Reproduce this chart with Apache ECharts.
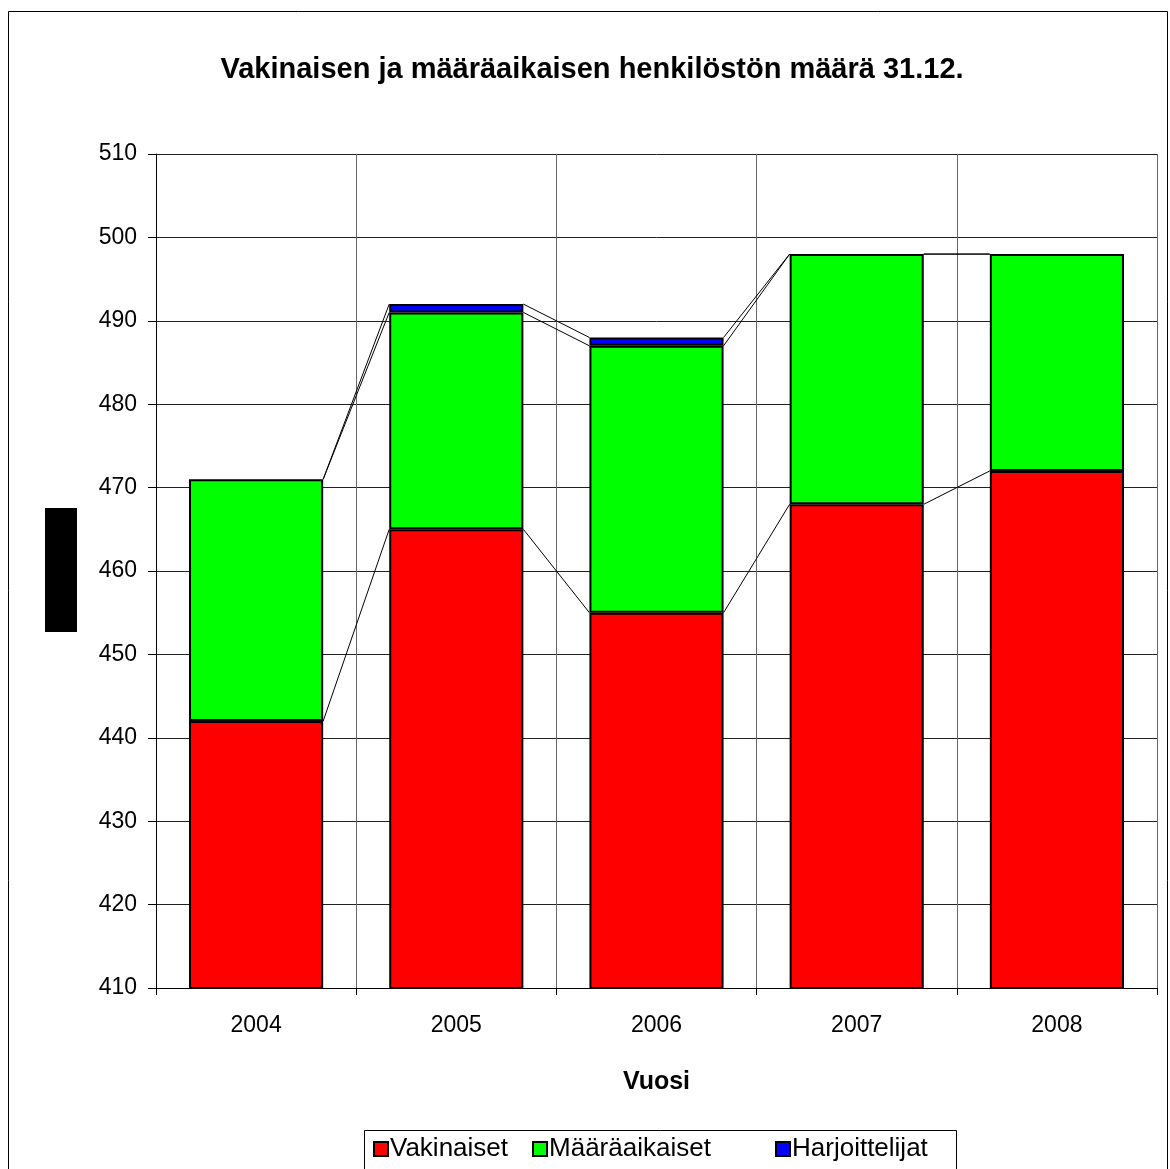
<!DOCTYPE html>
<html>
<head>
<meta charset="utf-8">
<script src="https://cdn.jsdelivr.net/npm/echarts@6/dist/echarts.min.js"></script>
<style>
  html, body { margin: 0; padding: 0; background: #fff; }
  #main { width: 1170px; height: 1169px; }
</style>
</head>
<body>
<div id="main"></div>
<script>
var years = ['2004', '2005', '2006', '2007', '2008'];
var vakinaiset = [442, 465, 455, 468, 472];
var maaraaikaiset = [29, 26, 32, 30, 26];
var harjoittelijat = [0, 1, 1, 0, 0];
var yTicks = [410, 510, 10]; // min, max, interval

var FONT = 'Liberation Sans, Arial, sans-serif';
var BAR_RATIO = 0.67;

// cumulative tops of each stack level
function cumulate(arrs) {
	var out = [];
	var sum = [0, 0, 0, 0, 0];
	for (var k = 0; k < arrs.length; k++) {
		for (var i = 0; i < sum.length; i++) sum[i] += arrs[k][i];
		out.push(sum.slice());
	}
	return out;
}
var levels = cumulate([vakinaiset, maaraaikaiset, harjoittelijat]);

// series lines between neighbouring bars (Excel style)
function connectorData(tops) {
	var d = [];
	for (var i = 0; i < tops.length - 1; i++) d.push([i, tops[i], tops[i + 1]]);
	return d;
}
function renderConnector(params, api) {
	var i = api.value(0);
	var p1 = api.coord([i, api.value(1)]);
	var p2 = api.coord([i + 1, api.value(2)]);
	var half = api.size([1, 0])[0] * BAR_RATIO / 2;
	return {
		type: 'line',
		shape: { x1: p1[0] + half, y1: p1[1], x2: p2[0] - half, y2: p2[1] },
		style: { stroke: '#000', lineWidth: 1 }
	};
}

var myChart = echarts.init(document.getElementById('main'));

var barStyle = function (color) {
	return { color: color, borderColor: '#000', borderWidth: 2 };
};
// zero-height segments are not drawn
var noZero = function (arr) {
	return arr.map(function (v) { return v === 0 ? '-' : v; });
};

var series = [
	{ name: 'Vakinaiset', type: 'bar', stack: 'a', barWidth: (BAR_RATIO * 100) + '%', data: vakinaiset, itemStyle: barStyle('#ff0000') },
	{ name: 'Määräaikaiset', type: 'bar', stack: 'a', data: maaraaikaiset, itemStyle: barStyle('#00ff00') },
	{ name: 'Harjoittelijat', type: 'bar', stack: 'a', data: noZero(harjoittelijat), itemStyle: barStyle('#0000ff') }
];
for (var k = 0; k < levels.length; k++) {
	series.push({
		type: 'custom',
		renderItem: renderConnector,
		data: connectorData(levels[k]),
		silent: true,
		z: 5
	});
}

var legendBase = {
	top: 1136,
	orient: 'horizontal',
	icon: 'rect',
	itemWidth: 14,
	itemHeight: 14,
	itemGap: 24,
	padding: 0,
	itemStyle: { borderColor: '#000', borderWidth: 2 },
	textStyle: { fontFamily: FONT, fontSize: 26, color: '#000', padding: [0, 0, 0, -3] }
};

var option = {
	backgroundColor: '#fff',
	animation: false,
	title: {
		text: 'Vakinaisen ja määräaikaisen henkilöstön määrä 31.12.',
		left: 587,
		textAlign: 'center',
		top: 50,
		textStyle: { fontFamily: FONT, fontSize: 29, fontWeight: 'bold', color: '#000' }
	},
	grid: { left: 156, right: 13, top: 154, bottom: 181, containLabel: false },
	legend: [
		Object.assign({}, legendBase, { left: 373, data: ['Vakinaiset', 'Määräaikaiset'] }),
		Object.assign({}, legendBase, { left: 775, data: ['Harjoittelijat'] })
	],
	xAxis: {
		type: 'category',
		data: years,
		name: 'Vuosi',
		nameLocation: 'middle',
		nameGap: 82,
		nameTextStyle: { fontFamily: FONT, fontSize: 25, fontWeight: 'bold', color: '#000' },
		axisLine: { lineStyle: { color: '#000', width: 1 } },
		axisTick: { show: true, length: 7, lineStyle: { color: '#000' } },
		axisLabel: { fontFamily: FONT, fontSize: 23, color: '#000', margin: 26 },
		splitLine: { show: true, lineStyle: { color: '#666', width: 1 } }
	},
	yAxis: {
		type: 'value',
		min: yTicks[0],
		max: yTicks[1],
		interval: yTicks[2],
		axisLine: { show: true, lineStyle: { color: '#000', width: 1 } },
		axisTick: { show: true, length: 8, lineStyle: { color: '#000' } },
		axisLabel: { fontFamily: FONT, fontSize: 23, color: '#000', margin: 19 },
		splitLine: { show: true, lineStyle: { color: '#222', width: 1 } }
	},
	graphic: [
		{ type: 'rect', shape: { x: 8.5, y: 11.5, width: 1159, height: 1200 }, style: { fill: 'none', stroke: '#000', lineWidth: 1 }, silent: true },
		{ type: 'rect', shape: { x: 364.5, y: 1130.5, width: 592, height: 60 }, style: { fill: 'none', stroke: '#000', lineWidth: 1 }, silent: true },
		{ type: 'rect', shape: { x: 45, y: 508, width: 32, height: 124 }, style: { fill: '#000' }, silent: true }
	],
	series: series
};

myChart.setOption(option);
</script>
</body>
</html>
